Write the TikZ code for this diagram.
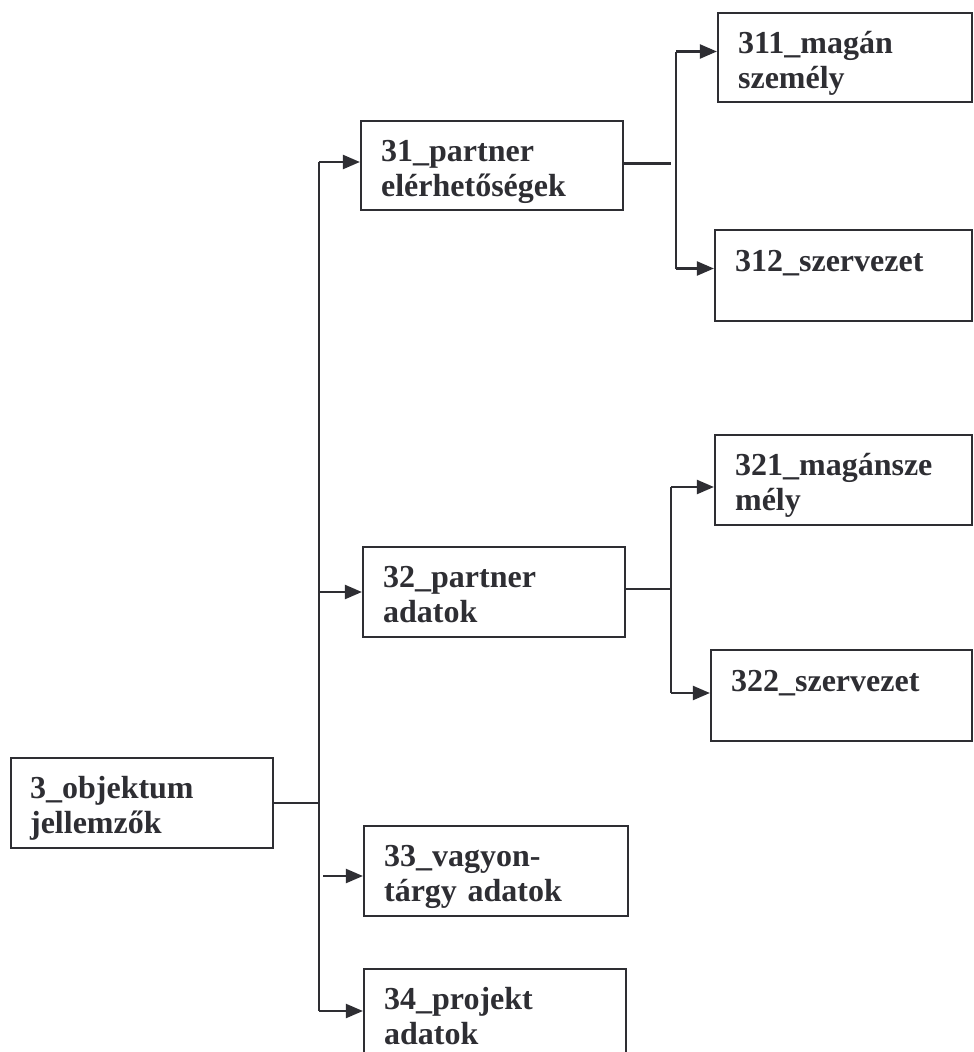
\documentclass[tikz,border=0pt]{standalone}
\usepackage{fontspec}
\setmainfont{Liberation Serif}
\usetikzlibrary{arrows.meta,calc}
\definecolor{ink}{HTML}{2E2E33}
\tikzset{
  box/.style={draw=ink, line width=2.2pt, rectangle, inner sep=0pt},
  lbl/.style={text=ink, inner sep=0pt, text width=240pt, align=left,
    font=\fontsize{32}{35}\selectfont\bfseries, anchor=base west},
  conn/.style={draw=ink, line width=2.2pt},
  arr/.style={conn, -{Triangle[length=17pt,width=14pt]}}
}
\begin{document}
\begin{tikzpicture}[x=1pt,y=-1pt]
\clip (0,0) rectangle (974,1052);
\fill[white] (0,0) rectangle (974,1052);
% boxes
\node[box, minimum width=262, minimum height=90] (b3)   at (142,803) {};
\node[box, minimum width=262, minimum height=89] (b31)  at (492,165.5) {};
\node[box, minimum width=254, minimum height=89] (b311) at (845,57.5) {};
\node[box, minimum width=257, minimum height=91] (b312) at (843.5,275.5) {};
\node[box, minimum width=262, minimum height=90] (b32)  at (494,592) {};
\node[box, minimum width=257, minimum height=90] (b321) at (843.5,480) {};
\node[box, minimum width=261, minimum height=91] (b322) at (841.5,695.5) {};
\node[box, minimum width=264, minimum height=90] (b33)  at (496,871) {};
\node[box, minimum width=262, minimum height=91] (b34)  at (495,1014.5) {};
% labels
\node[lbl] (t3)   at ([shift={(20pt,-42pt)}]b3.north west)   {3\_objektum\\jellemzők};
\node[lbl] (t31)  at ([shift={(21pt,-42pt)}]b31.north west)  {31\_partner\\elérhetőségek};
\node[lbl] (t311) at ([shift={(21pt,-42pt)}]b311.north west) {311\_magán\\személy};
\node[lbl] (t312) at ([shift={(21pt,-43pt)}]b312.north west) {312\_szervezet};
\node[lbl] (t32)  at ([shift={(21pt,-42pt)}]b32.north west)  {32\_partner\\adatok};
\node[lbl] (t321) at ([shift={(21pt,-42pt)}]b321.north west) {321\_magánsze\\mély};
\node[lbl] (t322) at ([shift={(21pt,-43pt)}]b322.north west) {322\_szervezet};
\node[lbl] (t33)  at ([shift={(21pt,-42pt)}]b33.north west)  {33\_vagyon-\\tárgy adatok};
\node[lbl] (t34)  at ([shift={(21pt,-42pt)}]b34.north west)  {34\_projekt\\adatok};
% arrow targets on box left sides
\coordinate (e31)  at ([yshift=3.5pt]b31.west);
\coordinate (e32)  at (b32.west);
\coordinate (e33)  at ([yshift=-5pt]b33.west);
\coordinate (e34)  at ([yshift=3.5pt]b34.west);
\coordinate (e311) at ([yshift=6pt]b311.west);
\coordinate (e312) at ([yshift=7pt]b312.west);
\coordinate (e321) at ([yshift=-7pt]b321.west);
\coordinate (e322) at ([yshift=2.5pt]b322.west);
\coordinate (o31)  at ([yshift=2pt]b31.east);
\coordinate (o32)  at ([yshift=3pt]b32.east);
% trunk x positions
\coordinate (tr) at (319,0);
\coordinate (tr2) at (323,0);
\coordinate (r1) at (676,0);
\coordinate (r1s) at (671,0);
\coordinate (r2) at (671,0);
% main trunk
\draw[conn] (b3.east) -- (tr |- b3.east);
\draw[conn] (tr |- e31) -- (tr |- e34);
\draw[arr] (tr |- e31) -- (e31);
\draw[arr] (tr |- e32) -- (e32);
\draw[arr] (tr2 |- e33) -- (e33);
\draw[arr] (tr |- e34) -- (e34);
% branch of 31
\draw[conn] (o31) -- (r1s |- o31);
\draw[conn] (r1 |- e311) -- (r1 |- e312);
\draw[arr] (r1 |- e311) -- (e311);
\draw[arr] (r1 |- e312) -- (e312);
% branch of 32
\draw[conn] (o32) -- (r2 |- o32);
\draw[conn] (r2 |- e321) -- (r2 |- e322);
\draw[arr] (r2 |- e321) -- (e321);
\draw[arr] (r2 |- e322) -- (e322);
\end{tikzpicture}
\end{document}
